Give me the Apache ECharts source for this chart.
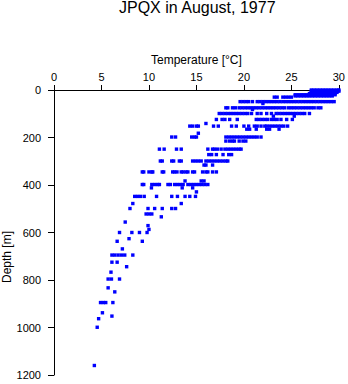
<!DOCTYPE html>
<html>
<head>
<meta charset="utf-8">
<script src="https://cdn.jsdelivr.net/npm/echarts@6/dist/echarts.min.js"></script>
<style>
html,body{margin:0;padding:0;background:#fff;}
#chart{width:348px;height:384px;}
</style>
</head>
<body>
<div id="chart"></div>
<script>
const titleText = 'JPQX in August, 1977';
const xName = 'Temperature [°C]';
const yName = 'Depth [m]';
const xTicks = [0, 5, 10, 15, 20, 25, 30];
const yTicks = [0, 200, 400, 600, 800, 1000, 1200];

// depth levels (m) and the temperatures (°C) observed at each
const depths = [0, 5, 10, 15, 20, 25, 30, 49, 57, 75, 82, 99, 110, 124, 141, 152, 165, 182, 198, 215, 249, 272, 299, 316, 345, 383, 398, 412, 429, 448, 478, 499, 522, 534, 556, 571, 587, 600, 626, 637, 669, 695, 725, 744, 767, 796, 833, 850, 895, 938, 952, 963, 999, 1160];
const temps = [
  [27.1, 27.4, 27.7, 28.0, 28.3, 28.6, 28.9, 29.2, 29.5, 29.8, 30.0],
  [27.1, 27.4, 27.7, 28.0, 28.3, 28.6, 28.9, 29.2, 29.5, 29.8, 30.0],
  [27.1, 27.4, 27.7, 28.0, 28.3, 28.6, 28.9, 29.2, 29.5, 29.8],
  [26.9, 27.2, 27.5, 27.8, 28.1, 28.4, 28.7, 29.0, 29.3, 29.6],
  [25.4, 25.7, 26.0, 26.3, 26.6, 26.9, 27.2, 27.5, 27.8, 28.1, 28.4, 28.7, 29.0, 29.3, 29.6],
  [25.4, 25.7, 26.0, 26.3, 26.6, 26.9, 27.2, 27.5, 27.8, 28.1, 28.4, 28.7, 29.0, 29.3],
  [23.2, 23.5, 24.1, 24.4, 24.7, 25.0],
  [19.6, 19.9, 20.2, 20.5, 20.9, 21.4, 21.7, 22.0, 22.3, 22.6, 22.9, 23.2, 23.5, 23.8, 24.1, 24.4, 24.7, 25.0, 25.3, 25.6, 25.9, 26.2, 26.5, 26.8, 27.1, 27.4, 27.7, 28.0, 28.3, 28.6, 28.9, 29.2, 29.5],
  [22.0],
  [18.1, 18.3, 18.8, 19.1, 19.5, 19.8, 20.1, 20.4, 20.7, 21.0, 21.3, 21.6, 21.9, 22.2, 22.5, 22.8, 23.1, 23.4, 23.7, 24.0, 24.3, 24.7, 25.0, 25.3, 25.6, 25.9, 26.2, 26.5, 26.8, 27.1, 27.4, 27.8, 28.1],
  [20.9],
  [17.4, 17.7, 18.0, 18.3, 18.6, 18.9, 19.2, 19.5, 19.8, 20.1, 20.4, 20.8, 21.4, 21.8, 22.4, 22.9, 23.4, 23.7, 24.0, 24.3, 24.6, 24.9, 25.2, 25.5, 25.8, 26.1, 26.4, 26.9],
  [23.1, 25.3],
  [17.1, 17.7, 18.0, 18.5, 19.3, 21.3, 21.6, 21.9, 22.2, 22.5, 22.9, 23.2, 23.5, 23.9, 24.5, 25.1],
  [16.0],
  [14.3, 14.6, 15.0, 15.2, 16.8, 17.3, 18.7, 19.2, 20.0, 20.5, 21.1, 21.4, 21.8, 22.2, 22.4, 22.7, 23.0, 23.3, 23.6, 23.9, 24.2, 24.6],
  [20.3, 20.6, 21.3, 22.4, 22.7, 23.7],
  [15.2],
  [12.4, 12.8, 14.5, 14.8, 15.0, 18.1, 18.4, 18.7, 19.0, 19.3, 19.6, 19.9, 20.2, 20.5, 20.8, 21.1, 21.4, 21.8],
  [18.1, 18.5, 18.8, 19.0, 19.5, 19.9, 20.2],
  [11.1, 11.6, 12.9, 13.4, 16.2, 16.7, 16.9, 17.2, 17.6, 18.0, 18.3, 18.6, 18.9, 19.2, 19.5, 19.7],
  [16.3, 16.6, 17.1, 17.8, 18.4, 18.7],
  [11.2, 11.4, 12.4, 12.6, 13.2, 13.4, 14.6, 14.9, 15.2, 15.5, 16.0, 16.3, 16.6, 16.9, 17.2, 17.5, 17.8, 18.1, 18.3],
  [15.8, 16.0, 16.7],
  [9.3, 9.45, 10.0, 10.3, 10.4, 11.4, 11.55, 12.5, 12.7, 12.95, 13.4, 13.6, 13.9, 14.1, 14.6, 14.8, 15.65, 16.0, 16.2, 16.7, 17.1],
  [13.8, 15.5, 15.8],
  [9.3, 9.45, 10.3, 10.6, 10.9, 11.1, 12.0, 12.25, 12.7, 13.0, 13.3, 13.6, 14.1, 14.4, 14.7, 15.0, 15.3, 15.6, 15.9, 16.2],
  [10.26, 13.5, 14.6],
  [15.0],
  [8.5, 8.8, 9.1, 9.5, 10.8, 12.4, 13.0, 13.8, 14.3, 14.9],
  [8.3, 13.4],
  [8.0, 9.9, 10.6, 11.4, 12.4, 12.8],
  [9.7, 10.0, 10.3],
  [11.3],
  [7.5],
  [9.9],
  [10.0],
  [6.9, 8.2, 9.0, 9.8],
  [7.9],
  [6.65, 9.3],
  [7.2],
  [6.1, 6.4, 6.75, 7.1, 7.45, 8.3],
  [6.1, 6.65],
  [7.65],
  [6.0],
  [5.7, 6.05, 6.9],
  [5.7],
  [6.4],
  [4.9, 5.2, 5.45, 6.2],
  [5.1],
  [6.1],
  [4.7],
  [4.55],
  [4.25]
];

const points = [];
depths.forEach(function (d, i) {
  temps[i].forEach(function (t) { points.push([t, d]); });
});

const FONT = '"Liberation Sans", Arial, Helvetica, sans-serif';
const chart = echarts.init(document.getElementById('chart'), null, {renderer: 'svg'});
chart.setOption({
  animation: false,
  backgroundColor: '#ffffff',
  grid: {left: 54, right: 8, top: 90, bottom: 9, containLabel: false},
  xAxis: {
    type: 'value', position: 'top',
    min: xTicks[0], max: xTicks[xTicks.length - 1], interval: 5,
    name: xName, nameLocation: 'middle', nameGap: 24,
    nameTextStyle: {fontFamily: FONT, fontSize: 12, color: '#000'},
    axisLine: {show: true, onZero: false, lineStyle: {color: '#000', width: 1}},
    axisTick: {show: true, length: 5, lineStyle: {color: '#000'}},
    axisLabel: {margin: 8, fontFamily: FONT, fontSize: 11, color: '#000'},
    splitLine: {show: false}
  },
  yAxis: {
    type: 'value', inverse: true,
    min: yTicks[0], max: yTicks[yTicks.length - 1], interval: 200,
    axisLine: {show: true, onZero: false, lineStyle: {color: '#000', width: 1}},
    axisTick: {show: true, length: 6, lineStyle: {color: '#000'}},
    axisLabel: {margin: 13, fontFamily: FONT, fontSize: 11, color: '#000', formatter: function (v) { return String(v); }},
    splitLine: {show: false}
  },
  graphic: [
    {type: 'text', left: 119, top: -1, style: {text: titleText, fontFamily: FONT, fontSize: 16, fill: '#000'}},
    {type: 'text', x: 1, y: 257, rotation: Math.PI / 2, style: {text: yName, fontFamily: FONT, fontSize: 12, fill: '#000', align: 'center', verticalAlign: 'top'}}
  ],
  series: [{
    type: 'scatter',
    data: points,
    symbol: 'rect',
    symbolSize: 3.4,
    itemStyle: {color: '#0000ff', opacity: 1},
    silent: true
  }]
});
</script>
</body>
</html>
